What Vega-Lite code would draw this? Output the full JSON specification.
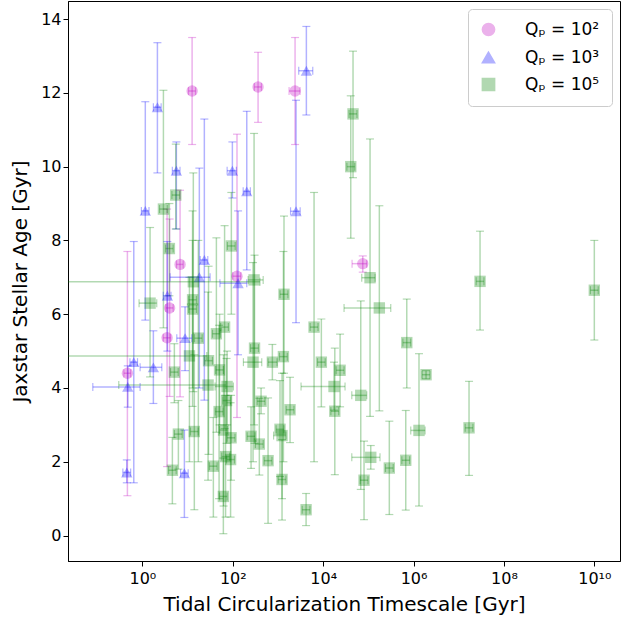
{
  "$schema": "https://vega.github.io/schema/vega-lite/v6.json",
  "width": 552,
  "height": 560,
  "autosize": {"type": "none"},
  "padding": {"left": 68, "top": 1, "right": 1, "bottom": 60},
  "config": {
    "font": "DejaVu Sans",
    "view": {"stroke": "black", "strokeWidth": 1},
    "axis": {"grid": false, "domainColor": "black", "tickColor": "black", "labelColor": "black", "titleColor": "black", "labelFontSize": 16, "titleFontSize": 20, "titleFontWeight": "normal", "tickSize": 5, "domainWidth": 1},
    "legend": {"orient": "top-right"}
  },
  "data": {"values": [
    {"s":"2","x":12.6,"xl":10.5,"xh":15,"y":12.05,"yl":10.6,"yh":13.5},
    {"s":"2","x":363,"xl":300,"xh":430,"y":12.16,"yl":11.2,"yh":13.1},
    {"s":"2","x":2390,"xl":1760,"xh":3080,"y":12.05,"yl":10.6,"yh":13.5},
    {"s":"2","x":75200,"xl":43600,"xh":92200,"y":7.37,"yl":7.14,"yh":7.58},
    {"s":"2","x":6.82,"xl":5.7,"xh":8,"y":7.35,"yl":3.76,"yh":9.36},
    {"s":"2","x":124,"xl":100,"xh":150,"y":7.03,"yl":3.2,"yh":10.88},
    {"s":"2","x":4.0,"xl":3.3,"xh":4.8,"y":6.17,"yl":3.77,"yh":8.58},
    {"s":"2","x":3.52,"xl":2.9,"xh":4.2,"y":5.36,"yl":1.87,"yh":8.85},
    {"s":"2","x":0.466,"xl":0.39,"xh":0.55,"y":4.40,"yl":1.08,"yh":7.7},
    {"s":"3","x":2.15,"xl":1.75,"xh":2.6,"y":11.61,"yl":9.83,"yh":13.36},
    {"s":"3","x":5.65,"xl":4.6,"xh":6.8,"y":9.89,"yl":8.31,"yh":10.67},
    {"s":"3","x":1.16,"xl":0.95,"xh":1.4,"y":8.80,"yl":5.84,"yh":11.76},
    {"s":"3","x":23.5,"xl":19,"xh":28,"y":7.47,"yl":3.67,"yh":11.29},
    {"s":"3","x":18.2,"xl":4.1,"xh":31.5,"y":7.0,"yl":4.0,"yh":9.96},
    {"s":"3","x":131,"xl":52,"xh":204,"y":6.84,"yl":4.9,"yh":8.8},
    {"s":"3","x":98,"xl":75,"xh":120,"y":9.89,"yl":9.15,"yh":10.67},
    {"s":"3","x":204,"xl":170,"xh":245,"y":9.33,"yl":7.2,"yh":11.5},
    {"s":"3","x":2510,"xl":1900,"xh":3100,"y":8.79,"yl":5.77,"yh":11.8},
    {"s":"3","x":4250,"xl":2880,"xh":5890,"y":12.6,"yl":11.4,"yh":13.8},
    {"s":"3","x":3.57,"xl":2.9,"xh":4.3,"y":6.50,"yl":5.0,"yh":7.97},
    {"s":"3","x":8.8,"xl":5.77,"xh":12.4,"y":5.35,"yl":4.47,"yh":6.2},
    {"s":"3","x":0.645,"xl":0.53,"xh":0.78,"y":4.70,"yl":1.43,"yh":7.97},
    {"s":"3","x":1.75,"xl":0.89,"xh":2.69,"y":4.56,"yl":3.58,"yh":5.55},
    {"s":"3","x":0.475,"xl":0.08,"xh":0.89,"y":4.03,"yl":3.48,"yh":4.6},
    {"s":"3","x":0.452,"xl":0.37,"xh":0.55,"y":1.71,"yl":1.43,"yh":2.05},
    {"s":"3","x":8.5,"xl":7,"xh":10.3,"y":1.69,"yl":0.49,"yh":2.86},
    {"s":"5","x":2.92,"xl":2.4,"xh":3.55,"y":8.85,"yl":5.63,"yh":12.07},
    {"s":"5","x":5.48,"xl":4.5,"xh":6.7,"y":9.23,"yl":8.31,"yh":10.61},
    {"s":"5","x":3.96,"xl":3.25,"xh":4.8,"y":7.78,"yl":6.5,"yh":9.0},
    {"s":"5","x":93,"xl":76,"xh":113,"y":7.85,"yl":6.0,"yh":9.3},
    {"s":"5","x":13.4,"xl":0.01,"xh":400,"y":6.88,"yl":3.9,"yh":9.83},
    {"s":"5","x":296,"xl":219,"xh":471,"y":6.93,"yl":3.0,"yh":10.9},
    {"s":"5","x":45800,"xl":37500,"xh":56000,"y":11.43,"yl":9.7,"yh":13.13},
    {"s":"5","x":40800,"xl":33500,"xh":50000,"y":10.0,"yl":8.06,"yh":11.92},
    {"s":"5","x":109000,"xl":71400,"xh":141000,"y":6.99,"yl":3.23,"yh":10.75},
    {"s":"5","x":1360,"xl":1110,"xh":1660,"y":6.54,"yl":4.4,"yh":8.66},
    {"s":"5","x":6290,"xl":5150,"xh":7700,"y":5.65,"yl":2.0,"yh":9.3},
    {"s":"5","x":175000,"xl":29000,"xh":313000,"y":6.17,"yl":3.38,"yh":8.94},
    {"s":"5","x":708000,"xl":580000,"xh":865000,"y":5.23,"yl":4.0,"yh":6.41},
    {"s":"5","x":9120,"xl":7500,"xh":11100,"y":4.70,"yl":3.49,"yh":5.87},
    {"s":"5","x":23700,"xl":19400,"xh":29000,"y":4.48,"yl":3.49,"yh":5.46},
    {"s":"5","x":17400,"xl":3240,"xh":30500,"y":4.04,"yl":3.4,"yh":4.7},
    {"s":"5","x":67900,"xl":43000,"xh":92200,"y":3.80,"yl":1.25,"yh":6.36},
    {"s":"5","x":18100,"xl":14800,"xh":22100,"y":3.37,"yl":1.65,"yh":5.08},
    {"s":"5","x":1850,"xl":1520,"xh":2260,"y":3.41,"yl":2.52,"yh":4.29},
    {"s":"5","x":113000,"xl":43000,"xh":181000,"y":2.12,"yl":1.8,"yh":2.44},
    {"s":"5","x":80300,"xl":66000,"xh":98000,"y":1.50,"yl":0.43,"yh":2.56},
    {"s":"5","x":291000,"xl":239000,"xh":355000,"y":1.83,"yl":0.57,"yh":3.1},
    {"s":"5","x":672000,"xl":551000,"xh":820000,"y":2.04,"yl":0.69,"yh":3.39},
    {"s":"5","x":4190,"xl":3440,"xh":5100,"y":0.70,"yl":0.27,"yh":1.14},
    {"s":"5","x":1230,"xl":1010,"xh":1500,"y":1.52,"yl":0.42,"yh":2.6},
    {"s":"5","x":1230,"xl":800,"xh":1500,"y":2.71,"yl":1.0,"yh":4.4},
    {"s":"5","x":1110,"xl":910,"xh":1350,"y":2.88,"yl":1.6,"yh":4.2},
    {"s":"5","x":604,"xl":495,"xh":737,"y":2.03,"yl":0.33,"yh":3.73},
    {"s":"5","x":387,"xl":317,"xh":472,"y":2.48,"yl":1.64,"yh":3.72},
    {"s":"5","x":254,"xl":208,"xh":310,"y":2.69,"yl":1.82,"yh":3.49},
    {"s":"5","x":423,"xl":347,"xh":516,"y":3.64,"yl":3.3,"yh":4.0},
    {"s":"5","x":752,"xl":604,"xh":955,"y":4.70,"yl":4.22,"yh":5.18},
    {"s":"5","x":281,"xl":172,"xh":438,"y":4.70,"yl":2.0,"yh":7.4},
    {"s":"5","x":303,"xl":248,"xh":370,"y":5.08,"yl":2.5,"yh":7.6},
    {"s":"5","x":1320,"xl":1080,"xh":1610,"y":4.85,"yl":2.0,"yh":7.7},
    {"s":"5","x":29.1,"xl":23.9,"xh":35.5,"y":4.74,"yl":2.2,"yh":7.3},
    {"s":"5","x":43.4,"xl":35.6,"xh":53,"y":5.47,"yl":2.8,"yh":8.07},
    {"s":"5","x":65.9,"xl":54,"xh":80,"y":5.65,"yl":2.9,"yh":8.4},
    {"s":"5","x":51,"xl":42,"xh":62,"y":4.49,"yl":3.0,"yh":6.0},
    {"s":"5","x":28.4,"xl":0.3,"xh":70,"y":4.08,"yl":1.5,"yh":6.6},
    {"s":"5","x":74.8,"xl":40.6,"xh":103,"y":4.04,"yl":3.0,"yh":5.0},
    {"s":"5","x":72.9,"xl":60,"xh":89,"y":3.66,"yl":2.5,"yh":4.8},
    {"s":"5","x":49.8,"xl":41,"xh":61,"y":3.36,"yl":1.0,"yh":5.7},
    {"s":"5","x":62.6,"xl":51,"xh":76,"y":2.86,"yl":0.8,"yh":4.9},
    {"s":"5","x":91.7,"xl":75,"xh":112,"y":2.65,"yl":1.5,"yh":3.8},
    {"s":"5","x":69.3,"xl":57,"xh":85,"y":2.14,"yl":0.5,"yh":3.8},
    {"s":"5","x":89.4,"xl":73,"xh":109,"y":2.06,"yl":0.5,"yh":3.6},
    {"s":"5","x":37.2,"xl":30.5,"xh":45,"y":1.88,"yl":0.5,"yh":3.2},
    {"s":"5","x":61.9,"xl":51,"xh":75,"y":1.06,"yl":0.05,"yh":2.1},
    {"s":"5","x":1.48,"xl":0.845,"xh":2.08,"y":6.30,"yl":4.3,"yh":8.35},
    {"s":"5","x":12.9,"xl":10.6,"xh":15.7,"y":6.39,"yl":4.0,"yh":8.8},
    {"s":"5","x":12.9,"xl":10.6,"xh":15.7,"y":6.14,"yl":3.5,"yh":8.0},
    {"s":"5","x":17.3,"xl":14.2,"xh":21,"y":5.35,"yl":2.0,"yh":8.0},
    {"s":"5","x":5.1,"xl":4.2,"xh":6.2,"y":4.43,"yl":3.6,"yh":5.2},
    {"s":"5","x":11.0,"xl":0.01,"xh":26.6,"y":4.87,"yl":2.0,"yh":7.0},
    {"s":"5","x":6.26,"xl":5.1,"xh":7.6,"y":2.75,"yl":1.8,"yh":3.66},
    {"s":"5","x":14.1,"xl":11.6,"xh":17.2,"y":2.82,"yl":0.7,"yh":4.9},
    {"s":"5","x":4.61,"xl":3.8,"xh":5.6,"y":1.77,"yl":0.86,"yh":2.66},
    {"s":"5","x":1890000,"xl":1550000,"xh":2300000,"y":4.36,"yl":4.25,"yh":4.47},
    {"s":"5","x":1320000,"xl":867000,"xh":1800000,"y":2.85,"yl":0.8,"yh":4.93},
    {"s":"5","x":16900000,"xl":13900000,"xh":20600000,"y":2.92,"yl":1.63,"yh":4.18},
    {"s":"5","x":29600000,"xl":24300000,"xh":36100000,"y":6.89,"yl":5.57,"yh":8.25},
    {"s":"5","x":10000000000,"xl":8200000000,"xh":12200000000,"y":6.65,"yl":5.3,"yh":8.0}
  ]},
  "layer": [
    {
      "mark": {"type": "rule", "opacity": 0.3, "strokeWidth": 1.5, "clip": true},
      "encoding": {
        "x": {"field": "x", "type": "quantitative", "scale": {"type": "log", "domain": [0.0226, 37000000000], "nice": false},
          "axis": {"values": [1,100,10000,1000000,100000000,10000000000], "title": "Tidal Circularization Timescale [Gyr]", "titlePadding": 8, "labelPadding": 4,
            "labelExpr": "datum.value == 1 ? '10⁰' : datum.value == 100 ? '10²' : datum.value == 10000 ? '10⁴' : datum.value == 1000000 ? '10⁶' : datum.value == 100000000 ? '10⁸' : '10¹⁰'"}},
        "y": {"field": "yl", "type": "quantitative", "scale": {"domain": [-0.69, 14.49], "nice": false, "zero": false},
          "axis": {"values": [0,2,4,6,8,10,12,14], "title": "Jaxstar Stellar Age [Gyr]", "titlePadding": 10}},
        "y2": {"field": "yh"},
        "color": {"field": "s", "type": "nominal", "scale": {"domain": ["2","3","5"], "range": ["#bf00bf","#0000ff","#008000"]},
          "legend": {"title": null, "orient": "top-right", "offset": 8, "padding": 12, "strokeColor": "#cccccc", "fillColor": "white", "cornerRadius": 4,
            "labelFontSize": 17, "labelColor": "black", "symbolSize": 150, "symbolOpacity": 0.35, "rowPadding": 9, "labelOffset": 28, "symbolStrokeWidth": 1.5,
            "labelExpr": "'Qₚ = 10' + (datum.label == '2' ? '²' : datum.label == '3' ? '³' : '⁵')"}}
      }
    },
    {
      "mark": {"type": "tick", "orient": "horizontal", "size": 8, "thickness": 1.2, "opacity": 0.3, "clip": true},
      "encoding": {"x": {"field": "x", "type": "quantitative"}, "y": {"field": "yl", "type": "quantitative"}, "color": {"field": "s", "type": "nominal"}}
    },
    {
      "mark": {"type": "tick", "orient": "horizontal", "size": 8, "thickness": 1.2, "opacity": 0.3, "clip": true},
      "encoding": {"x": {"field": "x", "type": "quantitative"}, "y": {"field": "yh", "type": "quantitative"}, "color": {"field": "s", "type": "nominal"}}
    },
    {
      "mark": {"type": "rule", "opacity": 0.3, "strokeWidth": 1.5, "clip": true},
      "encoding": {"x": {"field": "xl", "type": "quantitative"}, "x2": {"field": "xh"}, "y": {"field": "y", "type": "quantitative"}, "color": {"field": "s", "type": "nominal"}}
    },
    {
      "mark": {"type": "tick", "orient": "vertical", "size": 8, "thickness": 1.2, "opacity": 0.3, "clip": true},
      "encoding": {"x": {"field": "xl", "type": "quantitative"}, "y": {"field": "y", "type": "quantitative"}, "color": {"field": "s", "type": "nominal"}}
    },
    {
      "mark": {"type": "tick", "orient": "vertical", "size": 8, "thickness": 1.2, "opacity": 0.3, "clip": true},
      "encoding": {"x": {"field": "xh", "type": "quantitative"}, "y": {"field": "y", "type": "quantitative"}, "color": {"field": "s", "type": "nominal"}}
    },
    {
      "mark": {"type": "point", "filled": true, "fillOpacity": 0.3, "strokeOpacity": 0.3, "strokeWidth": 1.5, "size": 130, "clip": true},
      "encoding": {
        "x": {"field": "x", "type": "quantitative"},
        "y": {"field": "y", "type": "quantitative"},
        "color": {"field": "s", "type": "nominal"},
        "shape": {"field": "s", "type": "nominal", "scale": {"domain": ["2","3","5"], "range": ["circle","triangle-up","square"]}}
      }
    }
  ]
}
